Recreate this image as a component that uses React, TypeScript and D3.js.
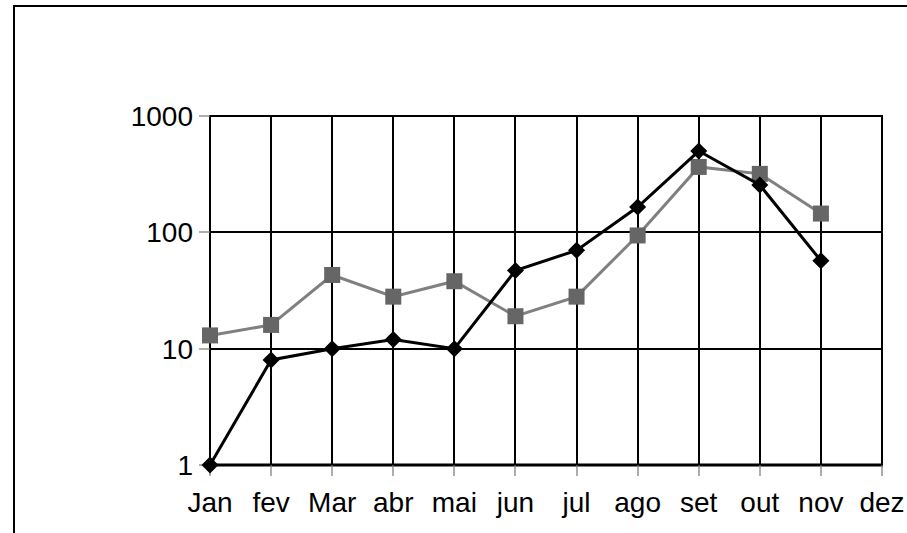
import * as d3 from "d3";
import { useEffect, useRef } from "react";

const months = ["Jan", "fev", "Mar", "abr", "mai", "jun", "jul", "ago", "set", "out", "nov", "dez"];
const seriesA = [1, 8, 10, 12, 10, 47, 70, 165, 500, 255, 57, null];
const seriesB = [13, 16, 43, 28, 38, 19, 28, 94, 365, 318, 145, null];
const yTicks = [1, 10, 100, 1000];

const W = 907;
const H = 533;
const margin = { left: 210, right: 25, top: 116, bottom: 68 };

export default function App() {
  const ref = useRef<SVGSVGElement>(null);

  useEffect(() => {
    if (!ref.current) return;
    const svg = d3.select(ref.current);
    svg.selectAll("*").remove();

    const x = d3
      .scalePoint<string>()
      .domain(months)
      .range([margin.left, W - margin.right])
      .padding(0);
    const y = d3
      .scaleLog()
      .domain([1, 1000])
      .range([H - margin.bottom, margin.top]);

    const font = "'Liberation Sans', Arial, sans-serif";
    const gx = (d: string) => Math.round(x(d)!);
    const gy = (d: number) => Math.round(y(d));

    // outer frame (only left and top visible)
    svg
      .append("path")
      .attr("d", `M14,${H + 5}V6H${W + 5}`)
      .attr("fill", "none")
      .attr("stroke", "#000")
      .attr("stroke-width", 2);

    const x0 = margin.left;
    const x1 = W - margin.right;
    const y0 = H - margin.bottom;
    const y1 = margin.top;

    // horizontal gridlines
    svg
      .append("g")
      .selectAll("line")
      .data(yTicks)
      .join("line")
      .attr("x1", x0)
      .attr("x2", x1)
      .attr("y1", gy)
      .attr("y2", gy)
      .attr("stroke", "#000")
      .attr("stroke-width", 2);

    // vertical gridlines
    svg
      .append("g")
      .selectAll("line")
      .data(months)
      .join("line")
      .attr("x1", gx)
      .attr("x2", gx)
      .attr("y1", y1 - 1)
      .attr("y2", y0)
      .attr("stroke", "#000")
      .attr("stroke-width", 2);

    // bottom axis line
    svg
      .append("line")
      .attr("x1", x0 - 1)
      .attr("x2", x1 + 1)
      .attr("y1", y0)
      .attr("y2", y0)
      .attr("stroke", "#000")
      .attr("stroke-width", 3);

    // tick marks
    svg
      .append("g")
      .selectAll("line")
      .data(months)
      .join("line")
      .attr("x1", gx)
      .attr("x2", gx)
      .attr("y1", y0)
      .attr("y2", y0 + 11)
      .attr("stroke", "#777")
      .attr("stroke-width", 1.2);
    svg
      .append("g")
      .selectAll("line")
      .data(yTicks)
      .join("line")
      .attr("x1", x0 - 11)
      .attr("x2", x0)
      .attr("y1", gy)
      .attr("y2", gy)
      .attr("stroke", "#777")
      .attr("stroke-width", 1.2);

    // labels
    svg
      .append("g")
      .selectAll("text")
      .data(months)
      .join("text")
      .attr("x", (d) => x(d)!)
      .attr("y", y0 + 47)
      .attr("text-anchor", "middle")
      .attr("font-family", font)
      .attr("font-size", 28)
      .attr("fill", "#000")
      .text((d) => d);
    svg
      .append("g")
      .selectAll("text")
      .data(yTicks)
      .join("text")
      .attr("x", x0 - 17)
      .attr("y", (d) => y(d))
      .attr("dy", "0.36em")
      .attr("text-anchor", "end")
      .attr("font-family", font)
      .attr("font-size", 28)
      .attr("fill", "#000")
      .text((d) => String(d));

    const line = d3
      .line<number | null>()
      .defined((d) => d != null)
      .x((_, i) => x(months[i])!)
      .y((d) => y(d as number));

    // series B (gray squares)
    svg
      .append("path")
      .datum(seriesB)
      .attr("d", line)
      .attr("fill", "none")
      .attr("stroke", "#808080")
      .attr("stroke-width", 3);
    const sq = 16;
    svg
      .append("g")
      .selectAll("rect")
      .data(seriesB.map((v, i) => ({ v, m: months[i] })).filter((d) => d.v != null))
      .join("rect")
      .attr("x", (d) => x(d.m)! - sq / 2)
      .attr("y", (d) => y(d.v as number) - sq / 2)
      .attr("width", sq)
      .attr("height", sq)
      .attr("fill", "#666");

    // series A (black diamonds)
    svg
      .append("path")
      .datum(seriesA)
      .attr("d", line)
      .attr("fill", "none")
      .attr("stroke", "#000")
      .attr("stroke-width", 3);
    const dm = 8.5;
    svg
      .append("g")
      .selectAll("path")
      .data(seriesA.map((v, i) => ({ v, m: months[i] })).filter((d) => d.v != null))
      .join("path")
      .attr("transform", (d) => `translate(${x(d.m)},${y(d.v as number)})`)
      .attr("d", `M0,${-dm}L${dm},0L0,${dm}L${-dm},0Z`)
      .attr("fill", "#000");
  }, []);

  return (
    <svg
      ref={ref}
      width={W}
      height={H}
      style={{ position: "absolute", left: 0, top: 0, background: "#fff" }}
    />
  );
}
